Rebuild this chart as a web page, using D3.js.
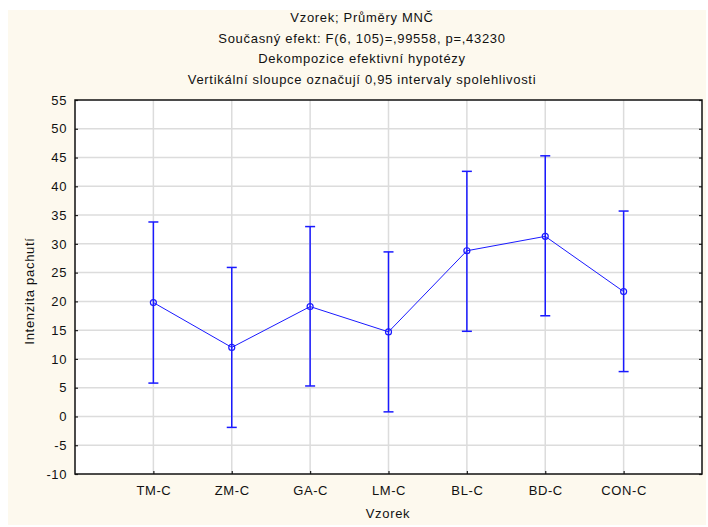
<!DOCTYPE html>
<html lang="cs">
<head>
<meta charset="UTF-8">
<title>Vzorek; Průměry MNČ</title>
<script src="https://d3js.org/d3.v7.min.js"></script>
<style>
  body { margin: 0; background: #fff; font-family: Arial, "Liberation Sans", sans-serif; }
  svg { display: block; }
  .grid line { stroke: #dcdcdc; stroke-width: 1.5px; }
  .lbl { font-size: 13px; fill: #111; letter-spacing: 0.7px; }
</style>
</head>
<body>
<svg width="708" height="527"></svg>
<script>
const categories = ["TM-C", "ZM-C", "GA-C", "LM-C", "BL-C", "BD-C", "CON-C"];
const means = [19.8, 12.0, 19.1, 14.7, 28.8, 31.3, 21.7];
const lower = [5.8, -1.9, 5.3, 0.8, 14.8, 17.5, 7.8];
const upper = [33.8, 25.9, 33.0, 28.6, 42.6, 45.3, 35.7];
const yTicks = [-10, -5, 0, 5, 10, 15, 20, 25, 30, 35, 40, 45, 50, 55];
const titleLines = [
  "Vzorek; Průměry MNČ",
  "Současný efekt: F(6, 105)=,99558, p=,43230",
  "Dekompozice efektivní hypotézy",
  "Vertikální sloupce označují 0,95 intervaly spolehlivosti"
];

const svg = d3.select("svg");
const plotL = 75, plotR = 702, plotT = 100, plotB = 474;

svg.append("rect").attr("x", 8).attr("y", 10).attr("width", 698).attr("height", 515)
  .attr("fill", "#fdf9ee");
svg.append("rect").attr("x", plotL).attr("y", plotT).attr("width", plotR - plotL).attr("height", plotB - plotT)
  .attr("fill", "#fff");

const x = d3.scalePoint().domain(categories).range([plotL, plotR]).padding(1);
const y = d3.scaleLinear().domain([-10, 55]).range([plotB, plotT]);

// grid
const grid = svg.append("g").attr("class", "grid");
grid.selectAll(".h").data(yTicks.slice(1, -1)).join("line")
  .attr("x1", plotL).attr("x2", plotR).attr("y1", d => y(d)).attr("y2", d => y(d));
grid.selectAll(".v").data(categories).join("line")
  .attr("x1", d => x(d)).attr("x2", d => x(d)).attr("y1", plotT).attr("y2", plotB);

// axes
const yAxis = svg.append("g").attr("transform", `translate(${plotL},0)`)
  .call(d3.axisLeft(y).tickValues(yTicks).tickSize(-3).tickPadding(8).tickFormat(d => String(d)));
const yAxisR = svg.append("g").attr("transform", `translate(${plotR},0)`)
  .call(d3.axisRight(y).tickValues(yTicks).tickSize(-3).tickFormat(""));
const xAxis = svg.append("g").attr("transform", `translate(0,${plotB})`)
  .call(d3.axisBottom(x).tickSize(-3).tickPadding(12));
[yAxis, yAxisR, xAxis].forEach(g => {
  g.select(".domain").remove();
  g.selectAll(".tick line").attr("stroke", "#222").attr("stroke-width", 1.2);
  g.selectAll("text").attr("font-family", "Arial, 'Liberation Sans', sans-serif")
    .attr("font-size", 13).attr("letter-spacing", "0.6px").attr("fill", "#111");
});
svg.append("rect").attr("x", plotL).attr("y", plotT).attr("width", plotR - plotL).attr("height", plotB - plotT)
  .attr("fill", "none").attr("stroke", "#111").attr("stroke-width", 1.5);

// error bars
const blue = "#1a1aff";
const eb = svg.append("g").attr("stroke", blue).attr("stroke-width", 1.5);
categories.forEach((c, i) => {
  eb.append("line").attr("x1", x(c)).attr("x2", x(c)).attr("y1", y(lower[i])).attr("y2", y(upper[i]));
  eb.append("line").attr("x1", x(c) - 5).attr("x2", x(c) + 5).attr("y1", y(lower[i])).attr("y2", y(lower[i]));
  eb.append("line").attr("x1", x(c) - 5).attr("x2", x(c) + 5).attr("y1", y(upper[i])).attr("y2", y(upper[i]));
});

// mean line + markers
svg.append("path").datum(means)
  .attr("fill", "none").attr("stroke", blue).attr("stroke-width", 1)
  .attr("d", d3.line().x((d, i) => x(categories[i])).y(d => y(d)));
svg.selectAll(".pt").data(means).join("circle")
  .attr("cx", (d, i) => x(categories[i])).attr("cy", d => y(d)).attr("r", 3)
  .attr("fill", "none").attr("stroke", blue).attr("stroke-width", 1.2);

// titles
svg.selectAll(".title").data(titleLines).join("text")
  .attr("class", "lbl").attr("x", 362).attr("y", (d, i) => 22 + i * 20.5)
  .attr("text-anchor", "middle").text(d => d);
svg.append("text").attr("class", "lbl").attr("x", 388).attr("y", 518)
  .attr("text-anchor", "middle").text("Vzorek");
svg.append("text").attr("class", "lbl")
  .attr("transform", `translate(34,${(plotT + plotB) / 2 + 4}) rotate(-90)`)
  .attr("text-anchor", "middle").text("Intenzita pachutí");
</script>
</body>
</html>
